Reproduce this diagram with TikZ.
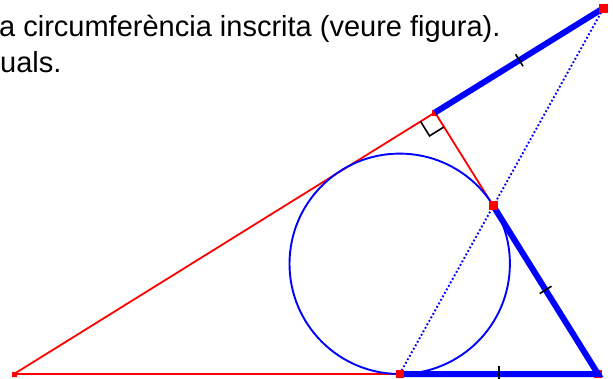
\documentclass[tikz,border=0pt]{standalone}
\usepackage{fontspec}
\setmainfont{Liberation Sans}
\usetikzlibrary{calc}
\begin{document}
\begin{tikzpicture}[x=1bp,y=-1bp,
  redline/.style={red, line width=1.8bp},
  blueline/.style={blue, line width=1.9bp},
  thickblue/.style={blue, line width=6bp, line join=miter},
  dotblue/.style={blue, line width=1.9bp, dash pattern=on 1.8bp off 2.2bp},
  tickmark/.style={black, line width=1.6bp},
  anglemark/.style={black, line width=1.6bp},
  sq/.style={fill=red, draw=none, inner sep=0pt, minimum size=#1},
  sq/.default=9bp,
  txt/.style={inner sep=0pt, anchor=base west, font=\fontsize{29bp}{34bp}\selectfont}]
\useasboundingbox (0,0) rectangle (613,378);
\clip (0,0) rectangle (613,378);
% points
\coordinate (A) at (14,374);
\coordinate (C) at (598,374);
\coordinate (F) at (435,112.5);
\coordinate (T) at (399.7,374);
\coordinate (P) at (493.2,205.8);
\coordinate (Q) at (603.6,8);
\coordinate (O) at (399.7,263.8);
% text
\node[txt] (t1) at (-1,36) {a circumferència inscrita (veure figura).};
\node[txt] (t2) at (0,72) {uals.};
% red triangle sides
\draw[redline] (A) -- (F);
\draw[redline] (F) -- (P);
\draw[redline] (A) -- (T);
% hidden markers under blue
\node[sq=6bp] (mF) at (F) {};
\node[sq=8bp] (mC) at (C) {};
% incircle
\draw[blueline] (O) circle[radius=110.2bp];
% dotted line
\draw[dotblue] (T) -- (Q);
% thick equal segments
\draw[thickblue] (F) -- (Q);
\draw[thickblue] (T) -- (C) -- (P);
% tick marks
\coordinate (M1) at ($(F)!0.5!(Q)$);
\coordinate (M2) at ($(P)!0.5!(C)$);
\coordinate (M3) at ($(T)!0.5!(C)$);
\draw[tickmark] ($(M1)!7bp!90:(Q)$) -- ($(M1)!7bp!-90:(Q)$);
\draw[tickmark] ($(M2)!7bp!90:(C)$) -- ($(M2)!7bp!-90:(C)$);
\draw[tickmark] ($(M3)!8bp!90:(C)$) -- ($(M3)!8bp!-90:(C)$);
% right angle mark
\coordinate (R1) at ($(F)!17bp!(A)$);
\coordinate (R3) at ($(F)!17bp!(C)$);
\coordinate (R2) at ($(R1)+(R3)-(F)$);
\draw[anglemark] (R1) -- (R2) -- (R3);
% point markers
\node[sq=5bp] (mA) at (A) {};
\node[sq=8bp] (mT) at (T) {};
\node[sq=9bp] (mP) at (P) {};
\node[sq=9bp] (mQ) at (Q) {};
\end{tikzpicture}
\end{document}
